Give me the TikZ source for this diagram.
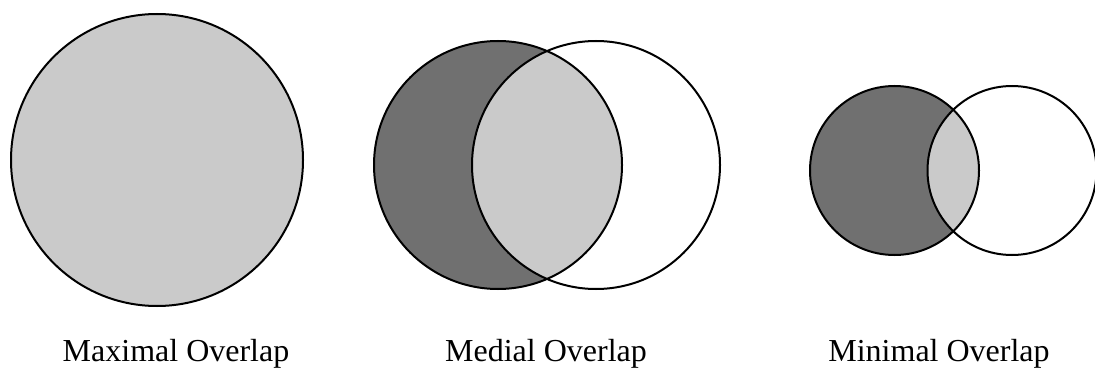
\documentclass[tikz,border=0pt]{standalone}
\usepackage{fontspec}
\setmainfont{Liberation Serif}
\definecolor{lightshade}{RGB}{202,202,202}
\definecolor{darkshade}{RGB}{112,112,112}
\tikzset{
  ring/.style={draw=black, line width=2pt},
  caption/.style={font=\fontsize{32}{36}\selectfont, anchor=base, inner sep=0pt}
}
\begin{document}
\begin{tikzpicture}[x=1pt, y=-1pt]
  \useasboundingbox (0,0) rectangle (1095,369);
  % maximal overlap
  \fill[lightshade] (157,160) circle (146pt);
  \draw[ring] (157,160) circle (146pt);
  % medial overlap
  \def\rm{124pt}
  \fill[darkshade] (498,165) circle (\rm);
  \begin{scope}
    \clip (596,165) circle (\rm);
    \fill[lightshade] (498,165) circle (\rm);
  \end{scope}
  \draw[ring] (498,165) circle (\rm);
  \draw[ring] (596,165) circle (\rm);
  % minimal overlap
  \def\rs{84.5pt}
  \fill[darkshade] (894.5,170.5) circle (\rs);
  \begin{scope}
    \clip (1012,170.5) circle (\rs);
    \fill[lightshade] (894.5,170.5) circle (\rs);
  \end{scope}
  \draw[ring] (894.5,170.5) circle (\rs);
  \draw[ring] (1012,170.5) circle (\rs);
  % captions
  \node[caption] (maxlabel) at (176,361) {Maximal Overlap};
  \node[caption] (medlabel) at (546,361) {Medial Overlap};
  \node[caption] (minlabel) at (939,361) {Minimal Overlap};
\end{tikzpicture}
\end{document}
